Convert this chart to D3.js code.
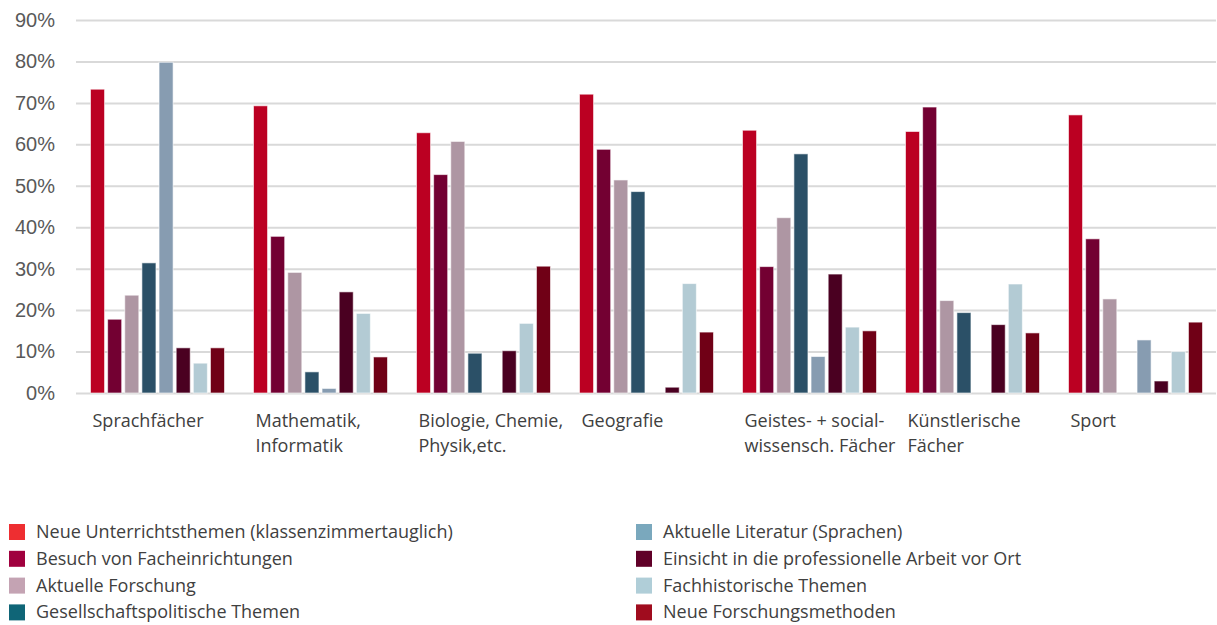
<!DOCTYPE html>
<html lang="de">
<head>
<meta charset="utf-8">
<title>Weiterbildung Themen nach Fach</title>
<script src="https://d3js.org/d3.v7.min.js"></script>
<style>
  body { margin: 0; background: #fff; }
  .tick text { font-family: "Liberation Sans", Arial, sans-serif; }
</style>
</head>
<body>
<div id="chart"></div>
<script>
// categories (x axis)
var categories = ["Sprachfächer", "Mathematik, Informatik", "Biologie, Chemie, Physik,etc.", "Geografie",
  "Geistes- + social- wissensch. Fächer", "Künstlerische Fächer", "Sport"];
var categoryLines = [["Sprachfächer"], ["Mathematik,", "Informatik"], ["Biologie, Chemie,", "Physik,etc."],
  ["Geografie"], ["Geistes- + social-", "wissensch. Fächer"], ["Künstlerische", "Fächer"], ["Sport"]];

var series = ["Neue Unterrichtsthemen (klassenzimmertauglich)", "Besuch von Facheinrichtungen", "Aktuelle Forschung",
  "Gesellschaftspolitische Themen", "Aktuelle Literatur (Sprachen)", "Einsicht in die professionelle Arbeit vor Ort",
  "Fachhistorische Themen", "Neue Forschungsmethoden"];

// values per series, in % (one per category)
var neueThemen   = [73.3, 69.3, 62.8, 72.1, 63.4, 63.1, 67.1];
var besuch       = [17.8, 37.8, 52.7, 58.8, 30.5, 69.0, 37.2];
var forschung    = [23.6, 29.1, 60.7, 51.4, 42.3, 22.3, 22.7];
var gesellschaft = [31.4, 5.1, 9.6, 48.6, 57.7, 19.4, 0];
var literatur    = [79.8, 1.1, 0, 0, 8.8, 0, 12.8];
var einsicht     = [10.9, 24.4, 10.2, 1.4, 28.7, 16.5, 2.9];
var historisch   = [7.2, 19.2, 16.8, 26.4, 15.9, 26.3, 10.0];
var methoden     = [10.9, 8.7, 30.6, 14.7, 15.0, 14.5, 17.1];
var values = [neueThemen, besuch, forschung, gesellschaft, literatur, einsicht, historisch, methoden];

var yTicks = [0, 10, 20, 30, 40, 50, 60, 70, 80, 90];

var barColors = ["#bb0022", "#730032", "#ae96a3", "#2b5067", "#879cb1", "#4a0021", "#b3cbd4", "#700016"];
var legendColors = ["#ee2e31", "#a0003e", "#c4a3b3", "#0f6577", "#7aa8bd", "#600028", "#b0ced8", "#a00c1e"];

var width = 1217, height = 625;
var plotLeft = 76, plotRight = 1217, plotTop = 20, plotBottom = 393;

var svg = d3.select("#chart").append("svg")
  .attr("width", width)
  .attr("height", height);

var y = d3.scaleLinear().domain([0, 90]).range([plotBottom, plotTop]);

var x0 = d3.scaleBand().domain(categories).range([plotLeft, plotRight]).padding(0);
var groupPad = 14.5;
var x1 = d3.scaleBand().domain(d3.range(series.length))
  .range([groupPad, x0.bandwidth() - groupPad]).paddingInner(0.18).paddingOuter(0);

// gridlines + tick labels
var yAxis = svg.append("g")
  .attr("transform", "translate(" + plotLeft + ",0)")
  .call(d3.axisLeft(y).tickValues(yTicks).tickSize(-(plotRight - plotLeft - 1)).tickPadding(21)
    .tickFormat(function (d) { return d + "%"; }));
yAxis.select(".domain").remove();
yAxis.selectAll(".tick line").attr("stroke", "#d9d9d9").attr("stroke-width", 2);
yAxis.selectAll(".tick text").attr("fill", "#595959").attr("font-size", 20);

// bars
var groups = svg.selectAll("g.cat")
  .data(categories)
  .enter().append("g")
  .attr("class", "cat")
  .attr("transform", function (d) { return "translate(" + x0(d) + ",0)"; });

groups.selectAll("rect")
  .data(function (d, ci) {
    return values.map(function (s, si) { return { s: si, v: s[ci] }; })
      .filter(function (d) { return d.v > 0; });
  })
  .enter().append("rect")
  .attr("x", function (d) { return x1(d.s); })
  .attr("y", function (d) { return y(d.v); })
  .attr("width", x1.bandwidth())
  .attr("height", function (d) { return y(0) - y(d.v); })
  .attr("fill", function (d) { return barColors[d.s]; })
  .attr("stroke", "#fff")
  .attr("stroke-opacity", 0.6)
  .attr("stroke-width", 1);

// category labels
var labels = groups.append("text")
  .attr("x", groupPad + 2)
  .attr("y", 427)
  .attr("font-family", "'Open Sans', 'Noto Sans', sans-serif")
  .attr("font-size", 18)
  .attr("fill", "#404040");
labels.selectAll("tspan")
  .data(function (d, i) { return categoryLines[i]; })
  .enter().append("tspan")
  .attr("x", groupPad + 2)
  .attr("dy", function (d, i) { return i === 0 ? 0 : 25; })
  .text(function (d) { return d; });

// legend
var legend = svg.append("g").selectAll("g")
  .data(series)
  .enter().append("g")
  .attr("transform", function (d, i) {
    var col = i < 4 ? 0 : 1, row = i % 4;
    return "translate(" + (col === 0 ? 9 : 636) + "," + (524 + row * 26.8) + ")";
  });
legend.append("rect")
  .attr("width", 16).attr("height", 16)
  .attr("fill", function (d, i) { return legendColors[i]; });
legend.append("text")
  .attr("x", 27)
  .attr("y", 14)
  .attr("font-family", "'Open Sans', 'Noto Sans', sans-serif")
  .attr("font-size", 18)
  .attr("fill", "#404040")
  .text(function (d) { return d; });
</script>
</body>
</html>
